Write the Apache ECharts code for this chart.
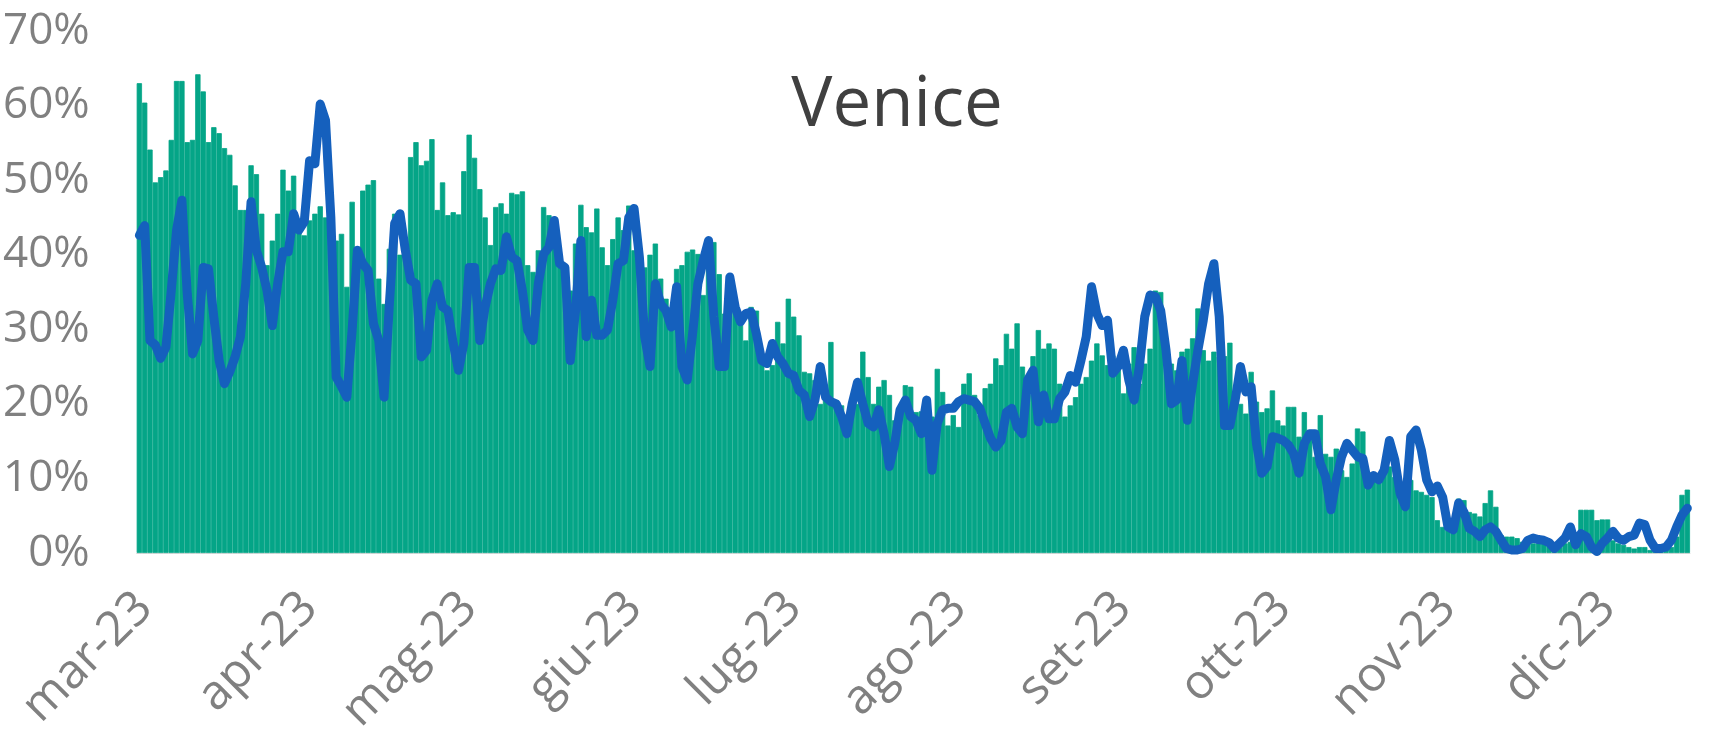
<!DOCTYPE html>
<html>
<head>
<meta charset="utf-8">
<title>Venice</title>
<script src="https://cdn.jsdelivr.net/npm/echarts@6/dist/echarts.min.js"></script>
<style>
  html, body { margin: 0; padding: 0; background: #fff; }
  #chart { width: 1730px; height: 751px; }
</style>
</head>
<body>
<div id="chart"></div>
<script>
// etichette dei mesi (asse x)
var monthLabels = ['gen', 'feb', 'mar', 'apr', 'mag', 'giu', 'lug', 'ago', 'set', 'ott', 'nov', 'dic'];
var yearLabel = '23';
var startDay = '2023-03-01';

// barre verdi, valori giornalieri in %
var barValues = [
    63.0, 60.4, 54.1, 49.7, 50.4, 51.3, 55.4, 63.3, 63.3, 55.1,
    55.4, 64.2, 61.9, 55.1, 57.1, 56.3, 54.3, 53.4, 49.3, 46.0,
    46.0, 52.0, 50.8, 45.5, 38.6, 41.9, 45.5, 51.4, 48.6, 50.6,
    43.0, 42.6, 44.6, 45.5, 46.5, 45.0, 44.0, 41.9, 42.8, 35.7,
    47.1, 41.0, 48.6, 49.4, 50.0, 36.8, 33.4, 40.8, 45.5, 40.0,
    42.0, 53.1, 55.1, 52.0, 52.6, 55.5, 46.0, 49.7, 45.3, 45.7,
    45.4, 51.2, 56.1, 53.0, 48.8, 45.0, 41.3, 46.4, 46.9, 45.5,
    48.3, 48.1, 48.5, 38.6, 37.7, 40.6, 46.4, 45.3, 41.7, 38.6,
    36.1, 35.2, 41.5, 46.7, 43.7, 43.0, 46.2, 41.0, 38.6, 42.1,
    45.0, 43.3, 46.6, 40.6, 40.1, 38.3, 40.0, 41.5, 36.8, 34.1,
    31.7, 38.1, 38.6, 40.4, 40.7, 40.1, 34.6, 41.9, 41.7, 37.4,
    32.1, 32.3, 32.5, 31.2, 28.5, 33.0, 32.5, 26.7, 24.5, 25.2,
    31.0, 28.1, 34.1, 31.7, 29.2, 24.3, 24.1, 23.2, 20.0, 20.9,
    28.3, 20.5, 19.8, 17.4, 19.2, 20.0, 27.0, 23.6, 20.0, 22.3,
    23.2, 21.2, 17.8, 18.3, 22.5, 22.3, 18.9, 19.0, 20.0, 18.3,
    24.7, 21.6, 17.1, 18.5, 16.9, 22.7, 24.1, 21.2, 18.5, 22.1,
    22.7, 26.1, 25.2, 29.4, 27.4, 30.8, 25.0, 21.2, 26.4, 29.9,
    27.4, 28.1, 27.4, 22.7, 18.3, 19.8, 20.9, 22.7, 23.6, 25.8,
    28.1, 26.5, 25.2, 26.5, 25.0, 21.4, 25.4, 27.6, 22.7, 25.4,
    27.4, 35.2, 35.0, 28.3, 25.4, 24.5, 27.0, 27.4, 28.8, 32.8,
    27.2, 25.8, 27.0, 26.3, 26.4, 28.2, 21.2, 20.0, 18.7, 24.3,
    20.3, 18.9, 19.4, 21.8, 17.8, 17.1, 19.6, 19.6, 15.6, 18.9,
    16.5, 12.9, 18.5, 13.3, 12.9, 14.0, 11.1, 10.2, 12.0, 16.7,
    16.3, 10.0, 10.7, 10.2, 10.7, 11.6, 10.2, 8.0, 8.0, 9.8,
    8.4, 8.2, 7.8, 7.5, 4.4, 3.5, 3.1, 3.1, 7.3, 7.1,
    5.5, 5.3, 4.9, 6.7, 8.4, 6.2, 2.4, 2.2, 2.2, 2.0,
    1.5, 1.5, 1.3, 1.3, 1.3, 1.1, 1.1, 0.8, 1.3, 1.5,
    1.7, 5.8, 5.8, 5.8, 4.4, 4.5, 4.5, 1.7, 1.3, 1.1,
    0.8, 0.6, 0.8, 0.8, 0.4, 0.4, 0.5, 0.6, 0.8, 2.2,
    7.8, 8.5
];

// linea blu, valori giornalieri in %
var lineValues = [
    42.6, 43.9, 28.5, 27.9, 26.1, 27.6, 35.2, 43.3, 47.3, 34.8,
    26.7, 28.5, 38.3, 38.1, 31.6, 25.8, 22.7, 24.3, 26.3, 29.0,
    36.1, 47.1, 40.6, 38.3, 35.2, 30.5, 36.1, 40.4, 40.4, 45.5,
    43.3, 44.4, 52.6, 52.2, 60.2, 58.0, 45.0, 23.6, 22.3, 20.9,
    29.9, 40.6, 38.8, 37.9, 30.8, 28.5, 20.9, 33.4, 44.2, 45.5,
    40.6, 36.6, 36.1, 26.3, 27.2, 33.9, 36.1, 33.0, 32.5, 28.1,
    24.5, 28.1, 38.3, 38.3, 28.5, 33.0, 36.1, 38.1, 37.9, 42.4,
    39.7, 39.2, 35.2, 29.9, 28.5, 36.1, 40.1, 41.0, 44.6, 38.8,
    38.3, 25.8, 32.5, 41.9, 29.0, 33.9, 29.2, 29.2, 29.9, 33.9,
    38.8, 39.2, 45.0, 46.2, 39.7, 29.0, 25.0, 36.1, 33.4, 32.5,
    30.3, 35.7, 25.0, 23.2, 29.4, 36.1, 39.2, 41.9, 31.7, 25.0,
    25.0, 37.0, 33.0, 31.0, 32.1, 32.3, 29.4, 25.8, 25.4, 28.1,
    26.3, 25.4, 24.1, 23.8, 21.8, 21.2, 18.3, 20.5, 25.0, 20.9,
    20.3, 20.0, 18.3, 16.0, 20.0, 22.9, 20.0, 17.4, 16.9, 19.2,
    16.0, 11.6, 14.7, 19.2, 20.5, 18.3, 17.8, 16.0, 20.5, 11.1,
    17.4, 19.2, 19.4, 19.4, 20.3, 20.7, 20.5, 20.3, 19.4, 17.4,
    15.4, 14.2, 15.1, 18.9, 19.4, 16.9, 16.0, 23.2, 24.5, 17.6,
    21.2, 18.0, 18.0, 20.7, 21.6, 23.8, 22.9, 25.8, 29.0, 35.7,
    32.1, 30.5, 31.2, 24.1, 25.0, 27.2, 23.2, 20.5, 25.0, 31.7,
    34.6, 34.4, 32.5, 27.2, 20.0, 20.5, 25.8, 17.8, 22.7, 27.2,
    31.2, 36.1, 38.8, 31.7, 17.1, 17.1, 20.5, 25.0, 21.6, 22.3,
    14.7, 10.7, 11.6, 15.6, 15.4, 15.1, 14.5, 13.3, 10.7, 14.7,
    16.0, 16.0, 12.0, 10.2, 5.8, 9.8, 12.9, 14.7, 13.8, 12.9,
    12.7, 9.1, 10.4, 9.8, 11.1, 15.1, 12.5, 8.0, 6.2, 15.6,
    16.5, 13.8, 9.8, 8.2, 9.0, 7.5, 3.5, 3.1, 6.7, 5.5,
    3.3, 2.9, 2.2, 3.1, 3.5, 2.9, 1.7, 0.6, 0.4, 0.4,
    0.6, 1.7, 2.0, 1.8, 1.7, 1.4, 0.6, 1.3, 2.0, 3.5,
    1.1, 2.6, 2.2, 0.8, 0.2, 1.3, 2.0, 2.9, 2.0, 1.7,
    2.2, 2.4, 4.0, 3.8, 1.7, 0.6, 0.6, 0.8, 1.7, 3.5,
    5.1, 6.0
];

// giorni (categorie) a partire da startDay
var days = [];
var t0 = new Date(startDay + 'T00:00:00Z').getTime();
for (var i = 0; i < barValues.length; i++) {
    days.push(new Date(t0 + i * 86400000).toISOString().slice(0, 10));
}

var font = '"Open Sans", "DejaVu Sans", sans-serif';
var myChart = echarts.init(document.getElementById('chart'));

var option = {
    backgroundColor: '#ffffff',
    animation: false,
    title: {
        text: 'Venice',
        left: 892,
        top: 67,
        textAlign: 'center',
        textStyle: {
            fontFamily: font,
            fontSize: 69,
            fontWeight: 'normal',
            color: '#404040'
        }
    },
    grid: {
        left: 133,
        right: 40,
        top: 31,
        bottom: 198
    },
    xAxis: {
        type: 'category',
        data: days,
        boundaryGap: true,
        axisLine: { show: true, lineStyle: { color: '#d9d9d9', width: 1 } },
        axisTick: { show: false },
        axisLabel: {
            rotate: 45,
            margin: 53,
            fontFamily: font,
            fontSize: 48,
            color: '#808080',
            padding: [0, -8, 0, 0],
            interval: function (idx, val) {
                return val.slice(8) === '01';
            },
            formatter: function (val) {
                return monthLabels[parseInt(val.slice(5, 7), 10) - 1] + '-' + yearLabel;
            }
        },
        splitLine: { show: false }
    },
    yAxis: {
        type: 'value',
        min: 0,
        max: 70,
        interval: 10,
        axisLine: { show: false },
        axisTick: { show: false },
        splitLine: { show: false },
        axisLabel: {
            margin: 47,
            fontFamily: font,
            fontSize: 44,
            color: '#808080',
            formatter: '{value}%'
        }
    },
    series: [{
        type: 'bar',
        data: barValues,
        barCategoryGap: '0%',
        // bordo dello stesso colore per chiudere le fessure tra le barre
        itemStyle: { color: '#04a587', borderColor: '#04a587', borderWidth: 0.8 },
        z: 1
    }, {
        type: 'line',
        data: lineValues,
        symbol: 'none',
        smooth: false,
        lineStyle: {
            color: '#1560bd',
            width: 9,
            join: 'round',
            cap: 'round'
        },
        z: 2
    }]
};

myChart.setOption(option);
</script>
</body>
</html>
